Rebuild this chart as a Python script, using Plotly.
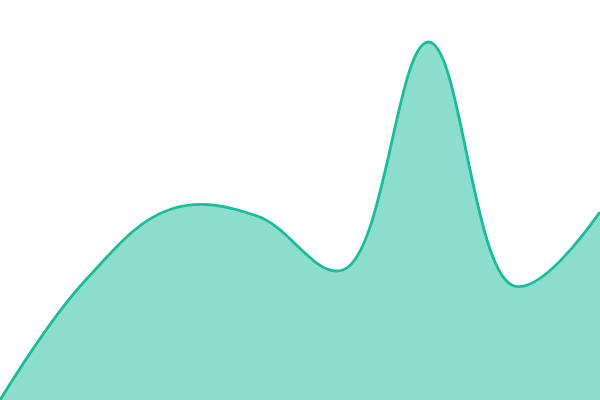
import plotly.graph_objects as go

# x positions (evenly spaced samples) and sampled values
steps = [0, 1, 2, 3, 4, 5, 6, 7]
values = [0, 120, 191, 184, 130, 358, 114, 188]

LINE = "#1abc9c"
FILL = "rgba(26,188,156,0.5)"

fig = go.Figure(go.Scatter(
    x=steps,
    y=values,
    mode="lines",
    line=dict(color=LINE, width=2.8, shape="spline", smoothing=1.1),
    fill="tozeroy",
    fillcolor=FILL,
    hoverinfo="skip",
))

fig.update_layout(
    width=600,
    height=400,
    margin=dict(l=0, r=0, t=0, b=0),
    paper_bgcolor="white",
    plot_bgcolor="white",
    showlegend=False,
    xaxis=dict(range=[0, 7], visible=False, fixedrange=True),
    yaxis=dict(range=[0, 400], visible=False, fixedrange=True),
)

# drop the page's default body margin so the chart sits flush at 0,0
fig.write_html(
    "out.html",
    config={"displayModeBar": False},
    post_script="document.body.style.margin='0';document.body.style.overflow='hidden';",
)
